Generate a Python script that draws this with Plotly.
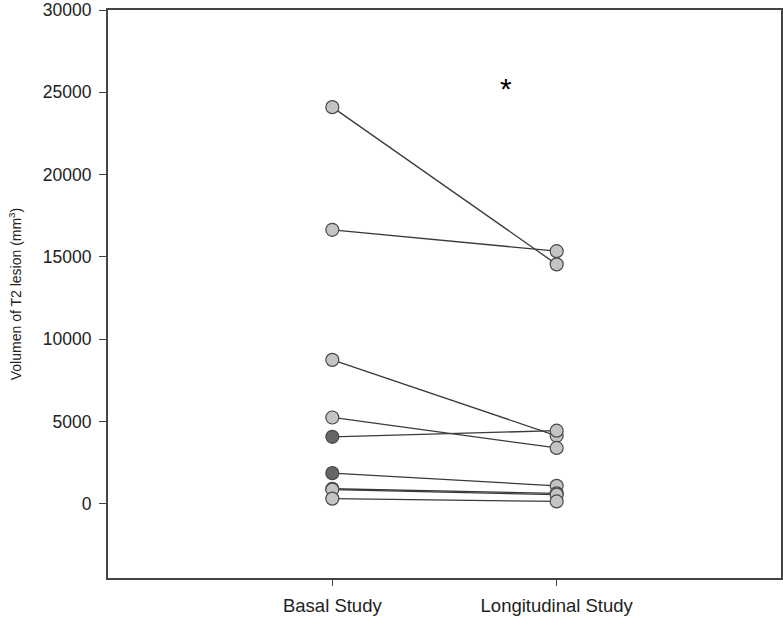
import plotly.graph_objects as go

categories = ["Basal Study", "Longitudinal Study"]
basal = [24100, 16650, 8750, 5250, 4075, 1870, 920, 870, 320]
longitudinal = [14550, 15350, 4135, 3400, 4450, 1100, 640, 560, 150]
basal_dark = [False, False, False, False, True, True, True, False, False]
y_ticks = [0, 5000, 10000, 15000, 20000, 25000, 30000]
y_tick_labels = ["0", "5000", "10000", "15000", "20000", "25000", "30000"]

LIGHT = "#c4c4c4"
DARK = "#666666"

fig = go.Figure()
for b, l, d in zip(basal, longitudinal, basal_dark):
    fig.add_trace(go.Scatter(
        x=[1, 2], y=[b, l], mode="lines",
        line=dict(color="#3a3a3a", width=1.3),
        showlegend=False, hoverinfo="skip"))
for b, l, d in zip(basal, longitudinal, basal_dark):
    fig.add_trace(go.Scatter(
        x=[1, 2], y=[b, l], mode="markers",
        marker=dict(size=13, color=[DARK if d else LIGHT, LIGHT],
                    line=dict(color="#4a4a4a", width=1.2)),
        showlegend=False))

fig.add_annotation(x=1.773, y=25400, text="*", showarrow=False,
                   font=dict(family="Arial, Liberation Sans", size=30, color="black"),
                   yshift=-3)

fig.update_layout(
    width=783, height=618,
    margin=dict(l=108, r=2, t=10, b=40, autoexpand=False),
    paper_bgcolor="white", plot_bgcolor="white",
    font=dict(family="Arial, Liberation Sans", color="#222222"),
    xaxis=dict(range=[0, 3], tickvals=[1, 2], ticktext=categories,
               showgrid=False, zeroline=False,
               showline=True, linecolor="#444444", linewidth=2, mirror=True,
               ticks="outside", ticklen=6, tickcolor="#444444",
               ticklabelstandoff=4,
               tickfont=dict(size=18.5, color="#222222")),
    yaxis=dict(range=[-4500, 30000], tickvals=y_ticks, ticktext=y_tick_labels,
               showgrid=False, zeroline=False,
               showline=True, linecolor="#444444", linewidth=2, mirror=True,
               ticks="outside", ticklen=7, tickcolor="#444444",
               ticklabelstandoff=4, ticklabeloverflow="allow",
               tickfont=dict(size=17.5, color="#222222"),
               title=dict(text="Volumen of T2 lesion (mm<sup>3</sup>)",
                          font=dict(size=14, color="#222222"), standoff=18)),
)

fig.write_html(
    "out.html",
    config={"displayModeBar": False},
    post_script="document.body.style.margin='0';document.body.style.overflow='hidden';",
)
